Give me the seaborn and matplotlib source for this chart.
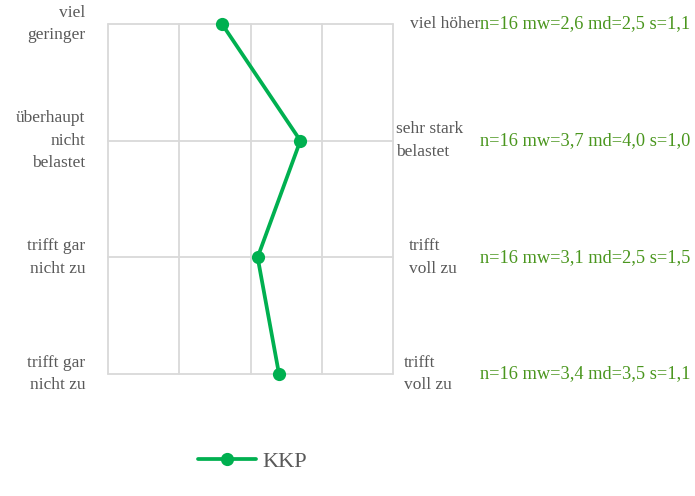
import numpy as np
import pandas as pd
import seaborn as sns
import matplotlib.pyplot as plt
import matplotlib.transforms as mtransforms

# Data
left_labels = ["viel\ngeringer", "überhaupt\nnicht\nbelastet", "trifft gar\nnicht zu", "trifft gar\nnicht zu"]
right_labels = ["viel höher", "sehr stark\nbelastet", "trifft\nvoll zu", "trifft\nvoll zu"]
stats = ["n=16 mw=2,6 md=2,5 s=1,1", "n=16 mw=3,7 md=4,0 s=1,0",
         "n=16 mw=3,1 md=2,5 s=1,5", "n=16 mw=3,4 md=3,5 s=1,1"]
means = [2.6, 3.7, 3.1, 3.4]
rows = [0, 1, 2, 3]
series_name = "KKP"

sns.set_style("white")
plt.rcParams['font.family'] = ['Liberation Serif', 'DejaVu Serif']

df = pd.DataFrame({"mean": means, "row": rows, "group": series_name})

fig = plt.figure(figsize=(6.95, 4.96), dpi=100)
ax = fig.add_axes([108 / 695, 1 - 374 / 496, 285 / 695, 350 / 496])

sns.lineplot(data=df, x="mean", y="row", sort=False, orient="y", ax=ax,
             color="#00b050", linewidth=2.7, marker="o", markersize=9.5,
             markeredgewidth=0, label=series_name)
for ln in ax.get_lines():
    ln.set_clip_on(False)
    ln.set_zorder(5)

ax.set_xlim(1, 5)
ax.set_ylim(3, 0)
ax.set_xticks([1, 2, 3, 4, 5])
ax.set_yticks(rows)
ax.tick_params(length=0, labelbottom=False, labelleft=False)
ax.set_xlabel("")
ax.set_ylabel("")
ax.grid(True, color="#d9d9d9", linewidth=1.3)
for s in ax.spines.values():
    s.set_visible(False)
for gl in ax.get_xgridlines() + ax.get_ygridlines():
    gl.set_clip_on(False)

trans = mtransforms.blended_transform_factory(ax.transAxes, ax.transData)
gray = "#595959"
right_x = [1.06, 1.011, 1.056, 1.039]
for i in rows:
    ax.text(-0.08, i, left_labels[i], transform=trans, ha="right", va="center",
            fontsize=12.5, color=gray, linespacing=1.55)
    ax.text(right_x[i], i, right_labels[i], transform=trans, ha="left", va="center",
            fontsize=12.5, color=gray, linespacing=1.55)
    ax.text(1.305, i, stats[i], transform=trans, ha="left", va="center",
            fontsize=13.2, color="#4a961e")

leg = ax.legend(loc="center", bbox_to_anchor=(0.363, 0.07),
                bbox_transform=fig.transFigure, frameon=False,
                fontsize=16, handlelength=2.6, handletextpad=0.3)
for t in leg.get_texts():
    t.set_color(gray)

fig.savefig("out.png", dpi=100)
